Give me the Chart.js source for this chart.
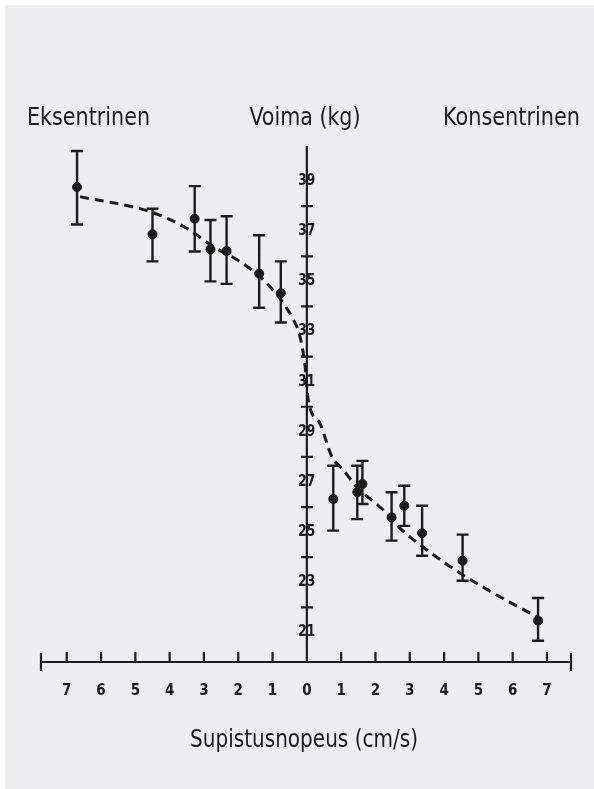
<!DOCTYPE html>
<html>
<head>
<meta charset="utf-8">
<script src="https://cdn.jsdelivr.net/npm/chart.js@4.4.1/dist/chart.umd.min.js"></script>
<style>
  html, body { margin: 0; padding: 0; background: #fff; }
  #panel { position: absolute; left: 5px; top: 5px; width: 589px; height: 784px; background: #eeeef0; }
  #wrap { position: absolute; left: 0; top: 0; width: 594px; height: 789px; }
</style>
</head>
<body>
<div id="panel"></div>
<div id="wrap"><canvas id="chart"></canvas></div>
<script>
// measured points (x: contraction speed, negative = eccentric)
const speed = [-6.70, -4.50, -3.27, -2.81, -2.34, -1.39, -0.76, 0.77, 1.47, 1.62, 2.47, 2.84, 3.36, 4.54, 6.74];
const force = [38.76, 36.88, 37.50, 36.28, 36.21, 35.31, 34.53, 26.32, 26.59, 26.92, 25.59, 26.05, 24.96, 23.86, 21.47];
const errHigh = [40.20, 37.90, 38.80, 37.45, 37.60, 36.84, 35.80, 27.65, 27.65, 27.84, 26.59, 26.85, 26.05, 24.90, 22.37];
const errLow = [37.27, 35.80, 36.19, 35.00, 34.90, 33.95, 33.36, 25.06, 25.52, 26.12, 24.66, 25.25, 24.06, 23.06, 20.67];

// dashed fitted curve
const curveX = [-6.61, -4.57, -3.50, -2.73, -1.95, -1.17, -0.39, -0.20, -0.05, 0.04, 0.38, 0.73, 1.06, 1.45, 2.33, 2.72, 3.50, 4.47, 5.63, 6.70];
const curveY = [38.38, 37.78, 37.12, 36.39, 35.79, 34.93, 33.46, 32.80, 31.60, 30.27, 29.34, 28.01, 27.48, 26.81, 25.75, 25.15, 24.29, 23.36, 22.42, 21.63];

// axis ticks
const xTicks = [-7, -6, -5, -4, -3, -2, -1, 0, 1, 2, 3, 4, 5, 6, 7];
const yLabels = [21, 23, 25, 27, 29, 31, 33, 35, 37, 39];
const yCrosses = [22, 24, 26, 28, 30, 32, 34, 36, 38];

const titles = ['Eksentrinen', 'Voima (kg)', 'Konsentrinen'];
const xTitle = 'Supistusnopeus (cm/s)';

const INK = '#1c1c1c';
const NARROW = "'DejaVu Sans Condensed', sans-serif";

const frame = {
    id: 'frame',
    beforeDatasetsDraw(chart) {
        const { ctx, scales: { x, y } } = chart;
        const x0 = x.getPixelForValue(0);
        const yBase = y.getPixelForValue(y.min);
        ctx.save();
        ctx.strokeStyle = INK;
        ctx.lineWidth = 2.2;
        ctx.beginPath();
        // x axis with end caps
        ctx.moveTo(x.left, yBase);
        ctx.lineTo(x.right, yBase);
        ctx.moveTo(x.left, yBase - 9);
        ctx.lineTo(x.left, yBase + 9);
        ctx.moveTo(x.right, yBase - 9);
        ctx.lineTo(x.right, yBase + 9);
        xTicks.forEach(v => {
            const px = x.getPixelForValue(v);
            ctx.moveTo(px, yBase - 10);
            ctx.lineTo(px, yBase);
        });
        // y axis at zero speed
        ctx.moveTo(x0, y.top);
        ctx.lineTo(x0, yBase);
        yCrosses.forEach(v => {
            const py = y.getPixelForValue(v);
            ctx.moveTo(x0 - 6, py);
            ctx.lineTo(x0 + 6, py);
        });
        ctx.stroke();

        // error bars
        ctx.lineWidth = 2.4;
        ctx.beginPath();
        speed.forEach((s, i) => {
            const px = x.getPixelForValue(s);
            const top = y.getPixelForValue(errHigh[i]);
            const bot = y.getPixelForValue(errLow[i]);
            ctx.moveTo(px, top);
            ctx.lineTo(px, bot);
            ctx.moveTo(px - 6, top);
            ctx.lineTo(px + 6, top);
            ctx.moveTo(px - 6, bot);
            ctx.lineTo(px + 6, bot);
        });
        ctx.stroke();

        // tick labels
        ctx.fillStyle = INK;
        ctx.font = "bold 15px 'DejaVu Sans Condensed', sans-serif";
        ctx.textAlign = 'center';
        ctx.textBaseline = 'middle';
        yLabels.forEach(v => ctx.fillText(String(v), x0, y.getPixelForValue(v), 17));
        xTicks.forEach(v => ctx.fillText(String(Math.abs(v)), x.getPixelForValue(v), yBase + 29));
        ctx.restore();
    },
    afterDraw(chart) {
        const { ctx, scales: { x } } = chart;
        ctx.save();
        ctx.fillStyle = INK;
        ctx.textBaseline = 'middle';
        ctx.font = '25px ' + NARROW;
        ctx.textAlign = 'left';
        ctx.fillText(titles[0], 27, 118, 123);
        ctx.textAlign = 'center';
        ctx.fillText(titles[1], 305, 118, 111);
        ctx.textAlign = 'right';
        ctx.fillText(titles[2], 580, 118, 137);
        ctx.textAlign = 'center';
        ctx.font = '25px ' + NARROW;
        ctx.fillText(xTitle, 304, 740, 228);
        ctx.restore();
    }
};

new Chart(document.getElementById('chart'), {
    type: 'scatter',
    data: {
        datasets: [{
            label: 'mitattu',
            data: speed.map((s, i) => ({ x: s, y: force[i] })),
            backgroundColor: INK,
            borderColor: INK,
            pointRadius: 4.5,
            order: 0
        }, {
            type: 'line',
            label: 'sovite',
            data: curveX.map((s, i) => ({ x: s, y: curveY[i] })),
            borderColor: INK,
            borderWidth: 3,
            borderDash: [9, 6],
            pointRadius: 0,
            fill: false,
            cubicInterpolationMode: 'monotone',
            order: 1
        }]
    },
    options: {
        responsive: true,
        maintainAspectRatio: false,
        animation: false,
        layout: { padding: { left: 41, right: 23, top: 146, bottom: 127 } },
        scales: {
            x: { type: 'linear', min: -7.75, max: 7.7, display: false },
            y: { type: 'linear', min: 19.82, max: 40.4, display: false }
        },
        plugins: {
            legend: { display: false },
            tooltip: { enabled: false }
        }
    },
    plugins: [frame]
});
</script>
</body>
</html>
